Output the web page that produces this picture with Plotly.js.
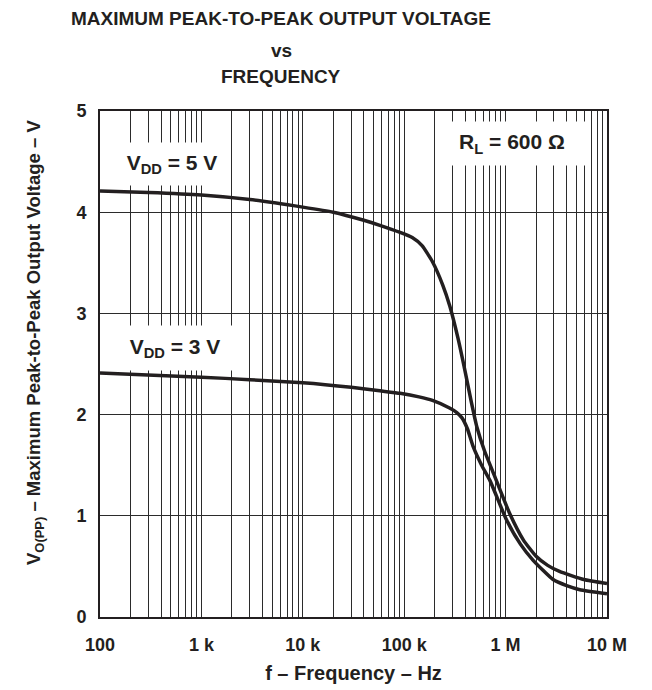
<!DOCTYPE html>
<html>
<head>
<meta charset="utf-8">
<script src="https://cdn.plot.ly/plotly-3.0.1.min.js"></script>
<style>
html,body{margin:0;padding:0;background:#fff;}
#chart{width:652px;height:690px;}
</style>
</head>
<body>
<div id="chart"></div>
<script>
// ---- data ----
const freq5 = [100, 300, 1000, 3000, 10000, 20000, 40000, 57500, 91000, 120000, 150000, 190000, 240000, 282000, 340000, 400000, 460000, 520000, 620000, 760000, 1100000, 1500000, 2000000, 2600000, 3400000, 5900000, 10000000];
const vpp5  = [4.21, 4.195, 4.17, 4.125, 4.05, 4.00, 3.92, 3.87, 3.80, 3.75, 3.67, 3.51, 3.28, 3.07, 2.75, 2.42, 2.12, 1.88, 1.64, 1.42, 1.02, 0.76, 0.60, 0.51, 0.45, 0.37, 0.33];
const freq3 = [100, 1000, 3000, 10000, 30000, 57500, 91000, 140000, 190000, 280000, 330000, 370000, 420000, 480000, 580000, 700000, 1020000, 1400000, 1870000, 2940000, 4000000, 5400000, 10000000];
const vpp3  = [2.41, 2.37, 2.345, 2.315, 2.27, 2.235, 2.21, 2.175, 2.14, 2.065, 2.02, 1.97, 1.86, 1.68, 1.50, 1.35, 0.96, 0.72, 0.56, 0.37, 0.31, 0.27, 0.23];
const decadeVals = [100, 1000, 10000, 100000, 1000000, 10000000];
const decadeText = ['100', '1 k', '10 k', '100 k', '1 M', '10 M'];
const yTickVals = [0, 1, 2, 3, 4, 5];

// minor log grid (2..9 of each decade)
const minorVals = [];
decadeVals.slice(0, -1).forEach(d => { for (let m = 2; m <= 9; m++) minorVals.push(d * m); });

const FONT = 'Liberation Sans, Arial, Helvetica, sans-serif';
const INK = '#231f20';
const GRID = '#2b2b2b';
// plot box in page pixels
const L = 100, R = 607, T = 111, B = 617;
const px = x => (x - L) / (R - L);
const py = y => (B - y) / (B - T);

const traces = [
  {x: freq5, y: vpp5, mode: 'lines', line: {color: INK, width: 3.5, shape: 'spline', smoothing: 0.5}, name: 'VDD = 5 V'},
  {x: freq3, y: vpp3, mode: 'lines', line: {color: INK, width: 3.5, shape: 'spline', smoothing: 0.5}, name: 'VDD = 3 V'}
];

const boxFont = {family: FONT, size: 21, color: INK, weight: 'bold'};
const titleFont = {family: FONT, size: 19, color: INK, weight: 'bold'};
const layout = {
  width: 652, height: 690,
  margin: {l: L, r: 652 - R, t: T, b: 690 - B},
  paper_bgcolor: '#fff', plot_bgcolor: '#fff',
  showlegend: false,
  title: {text: 'MAXIMUM PEAK-TO-PEAK OUTPUT VOLTAGE', font: titleFont,
          x: 281 / 652, xref: 'container', xanchor: 'center', y: 1 - 18.5 / 690, yref: 'container', yanchor: 'middle'},
  xaxis: {
    type: 'log', range: [2, 7], tickmode: 'array', tickvals: decadeVals, ticktext: decadeText,
    showgrid: true, gridcolor: GRID, gridwidth: 1, zeroline: false,
    minor: {tickmode: 'array', tickvals: minorVals, showgrid: true, gridcolor: GRID, gridwidth: 1, ticks: ''},
    showline: true, linecolor: INK, linewidth: 2, mirror: true, ticks: '',
    ticklabelstandoff: 10,
    tickfont: {family: FONT, size: 18, color: INK, weight: 'bold'},
    title: {text: 'f – Frequency – Hz', font: {family: FONT, size: 20, color: INK, weight: 'bold'}, standoff: 12}
  },
  yaxis: {
    range: [0, 5], tickmode: 'array', tickvals: yTickVals,
    showgrid: true, gridcolor: GRID, gridwidth: 1, zeroline: false,
    showline: true, linecolor: INK, linewidth: 2, mirror: true, ticks: '',
    ticklabelstandoff: 8,
    tickfont: {family: FONT, size: 18, color: INK, weight: 'bold'}
  },
  annotations: [
    {text: 'vs', xref: 'paper', yref: 'paper', x: px(281), y: py(50), xanchor: 'center', yanchor: 'middle', showarrow: false,
     font: titleFont},
    {text: 'FREQUENCY', xref: 'paper', yref: 'paper', x: px(281), y: py(76.5), xanchor: 'center', yanchor: 'middle', showarrow: false,
     font: titleFont},
    {text: 'V<sub>O(PP)</sub> – Maximum Peak-to-Peak Output Voltage – V', xref: 'paper', yref: 'paper',
     x: px(35), y: py(343), xanchor: 'center', yanchor: 'middle', textangle: -90, showarrow: false,
     font: {family: FONT, size: 18.5, color: INK, weight: 'bold'}},
    {text: 'V<sub>DD</sub> = 5 V', xref: 'paper', yref: 'paper', x: px(172), y: py(164), xanchor: 'center', yanchor: 'middle', showarrow: false,
     bgcolor: '#fff', borderpad: 0, width: 116, height: 42, font: boxFont},
    {text: 'V<sub>DD</sub> = 3 V', xref: 'paper', yref: 'paper', x: px(175), y: py(348), xanchor: 'center', yanchor: 'middle', showarrow: false,
     bgcolor: '#fff', borderpad: 0, width: 122, height: 44, font: boxFont},
    {text: 'R<sub>L</sub> = 600 Ω', xref: 'paper', yref: 'paper', x: px(512), y: py(144), xanchor: 'center', yanchor: 'middle', showarrow: false,
     bgcolor: '#fff', borderpad: 0, width: 146, height: 43, font: boxFont}
  ]
};

Plotly.newPlot('chart', traces, layout, {displayModeBar: false, staticPlot: true});
</script>
</body>
</html>
